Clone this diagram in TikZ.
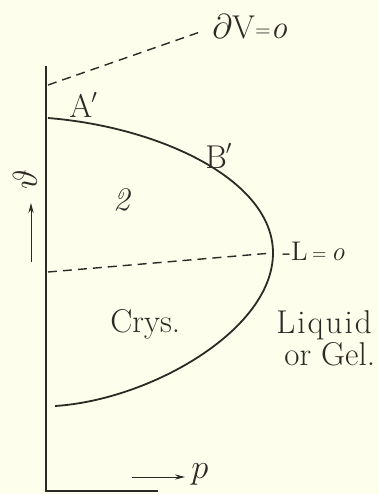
\documentclass[tikz,border=0pt]{standalone}
\usetikzlibrary{arrows.meta}
\definecolor{bg}{RGB}{254,254,236}
\definecolor{ink}{RGB}{45,42,38}
\begin{document}
\begin{tikzpicture}[x=0.5pt,y=-0.5pt,
  ax/.style={draw=ink,line width=1.3pt},
  crv/.style={draw=ink,line width=0.9pt},
  dsh/.style={draw=ink,line width=0.7pt,dash pattern=on 4.5pt off 3pt},
  lbl/.style={text=ink,inner sep=0pt,anchor=base west,font=\fontsize{16.5}{12.5}\selectfont},
  small/.style={lbl,font=\fontsize{13.5}{12}\selectfont},
  arr/.style={draw=ink,line width=0.5pt,-{Stealth[length=5pt,width=2.6pt]}}]
\fill[bg] (0,0) rectangle (379,494);
\useasboundingbox (0,0) rectangle (379,494);
% axes
\coordinate (top) at (46,66);
\coordinate (org) at (46,491);
\coordinate (xend) at (158,491);
\draw[ax] (top) -- (org) -- (xend);
% dV=0 dashed line
\coordinate (dv0) at (48,85);
\coordinate (dv1) at (200,32);
\draw[dsh] (dv0) -- (dv1);
\node[lbl] (dvl) at (212,38) {$\partial$V\raisebox{1pt}{\normalsize=}\textit{o}};
% curve
\coordinate (A) at (48,118);
\coordinate (tip) at (273,253);
\coordinate (E) at (55,406);
\draw[crv] (A) .. controls (160,127) and (273,180) .. (tip)
                .. controls (273,330) and (150,400) .. (E);
% L=0 dashed line
\coordinate (L0) at (48,272);
\coordinate (L1) at (272,253);
\draw[dsh] (L0) -- (L1);
\node[small] (Ll) at (282,260) {-L\,\raisebox{0.5pt}{\small=}\,\textit{o}};
% labels
\node[lbl] (Alab) at (69,117) {A\kern-0.5pt\raisebox{7pt}{\fontsize{10}{10}\selectfont$\prime$}};
\node[lbl] (Blab) at (205,168) {B\kern-0.5pt\raisebox{7pt}{\fontsize{10}{10}\selectfont$\prime$}};
\node[lbl,anchor=base] (two) at (122,210) {\textit{2}};
\node[lbl] (crys) at (110,332) {Crys.};
\node[lbl,align=left] (liq) at (276,365) {L\kern1pt i\kern1pt q\kern1pt u\kern1pt i\kern1pt d\\\hspace*{4pt}or Gel.};
% theta axis
\node[lbl,anchor=center,rotate=90] (th) at (25,180) {$\vartheta$};
\coordinate (ta0) at (31,262);
\coordinate (ta1) at (31,203);
\draw[arr] (ta0) -- (ta1);
% p axis
\coordinate (pa0) at (132,477);
\coordinate (pa1) at (185,477);
\draw[arr] (pa0) -- (pa1);
\node[lbl] (p) at (191,478) {$p$};
\end{tikzpicture}
\end{document}
